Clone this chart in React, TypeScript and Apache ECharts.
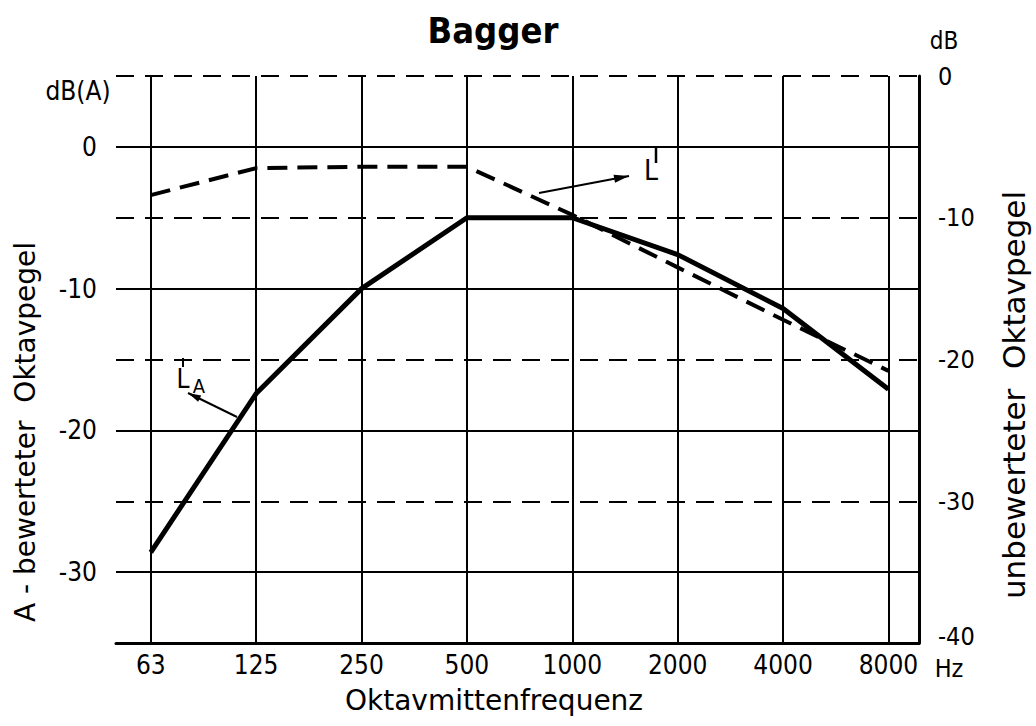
import React, { useEffect, useRef } from 'react';
import * as echarts from 'echarts';

// Octave-band centre frequencies (Hz)
const frequencies = ['63', '125', '250', '500', '1000', '2000', '4000', '8000'];
// A-weighted octave level L'_A in dB(A) (left axis)
const levelA = [-28.6, -17.4, -10.0, -5.0, -5.0, -7.6, -11.4, -17.1];
// Unweighted octave level L' in dB (right axis)
const levelLin = [-8.4, -6.5, -6.4, -6.4, -9.8, -13.5, -17.2, -20.8];
// Tick labels
const leftTicks = [0, -10, -20, -30];
const rightTicks = [0, -10, -20, -30, -40];

const NARROW = "'Liberation Sans Narrow', 'DejaVu Sans Condensed', 'DejaVu Sans', sans-serif";
const WIDE = "'DejaVu Sans', sans-serif";

function arrowHead(tip: number[], from: number[], len: number, half: number) {
  const dx = tip[0] - from[0];
  const dy = tip[1] - from[1];
  const l = Math.hypot(dx, dy);
  const ux = dx / l, uy = dy / l;
  const bx = tip[0] - ux * len, by = tip[1] - uy * len;
  const nx = -uy * half, ny = ux * half;
  return [tip, [bx + nx, by + ny], [bx - nx, by - ny]];
}

export default function App() {
  const ref = useRef<HTMLDivElement>(null);
  useEffect(() => {
    if (!ref.current) return;
    const chart = echarts.init(ref.current, null, { renderer: 'svg' });
    const idx = frequencies.map((_, i) => i);
    const black = '#000';
    const a1Start = [539, 193], a1Tip = [629, 176];
    const a2Start = [237, 417], a2Tip = [188, 393];
    chart.setOption({
      animation: false,
      backgroundColor: '#fff',
      grid: { left: 116, right: 117, top: 76, bottom: 83, containLabel: false },
      xAxis: {
        type: 'value',
        min: -0.33,
        max: 7.29,
        axisLine: { show: true, onZero: false, lineStyle: { color: black, width: 3 } },
        axisTick: { show: false },
        splitLine: { show: false },
        axisLabel: {
          customValues: idx,
          formatter: (v: number) => frequencies[Math.round(v)] ?? '',
          color: black,
          fontSize: 26,
          fontFamily: NARROW,
          margin: 9,
        },
      },
      yAxis: [
        {
          type: 'value',
          min: -35,
          max: 5,
          position: 'left',
          axisLine: { show: true, lineStyle: { color: black, width: 2 } },
          axisTick: { show: false },
          splitLine: { show: false },
          axisLabel: {
            customValues: leftTicks,
            color: black,
            fontSize: 26,
            fontFamily: NARROW,
            margin: 19,
          },
        },
        {
          type: 'value',
          min: -40,
          max: 0,
          interval: 10,
          position: 'right',
          axisLine: { show: true, lineStyle: { color: black, width: 3 } },
          axisTick: { show: false },
          splitLine: { show: true, showMinLine: false, lineStyle: { color: black, width: 2, type: [18, 11] } },
          axisLabel: {
            customValues: rightTicks,
            color: black,
            fontSize: 25,
            fontFamily: NARROW,
            margin: 19,
            formatter: (v: number) => (v === -40 ? '{lift|-40}' : String(v)),
            rich: {
              lift: { fontSize: 25, fontFamily: NARROW, color: black, padding: [0, 0, 14, 0] },
            },
          },
        },
      ],
      series: [
        {
          name: "L'A",
          type: 'line',
          yAxisIndex: 0,
          data: levelA.map((v, i) => [i, v]),
          symbol: 'none',
          lineStyle: { color: black, width: 5 },
          z: 5,
          markLine: {
            silent: true,
            symbol: 'none',
            label: { show: false },
            lineStyle: { color: black, width: 2, type: 'solid' },
            data: [
              ...leftTicks.map((v) => ({ yAxis: v })),
              ...idx.map((i) => ({ xAxis: i })),
            ],
          },
        },
        {
          name: "L'",
          type: 'line',
          yAxisIndex: 1,
          data: levelLin.map((v, i) => [i, v]),
          symbol: 'none',
          lineStyle: { color: black, width: 4, type: [20, 10] },
          z: 4,
        },
      ],
      graphic: [
        { type: 'text', x: 493, y: 30, style: { text: 'Bagger', fontSize: 36, fontWeight: 'bold', fontFamily: NARROW, fill: black, align: 'center', verticalAlign: 'middle' } },
        { type: 'text', x: 78, y: 91, style: { text: 'dB(A)', fontSize: 26, fontFamily: NARROW, fill: black, align: 'center', verticalAlign: 'middle' } },
        { type: 'text', x: 944, y: 41, style: { text: 'dB', fontSize: 24, fontFamily: NARROW, fill: black, align: 'center', verticalAlign: 'middle' } },
        { type: 'text', x: 949, y: 668, style: { text: 'Hz', fontSize: 25, fontFamily: NARROW, fill: black, align: 'center', verticalAlign: 'middle' } },
        { type: 'text', x: 494, y: 700, style: { text: 'Oktavmittenfrequenz', fontSize: 28, fontFamily: WIDE, fill: black, align: 'center', verticalAlign: 'middle' } },
        { type: 'text', x: 25, y: 432, rotation: Math.PI / 2, style: { text: 'A - bewerteter  Oktavpegel', fontSize: 28, fontFamily: WIDE, fill: black, align: 'center', verticalAlign: 'middle' } },
        { type: 'text', x: 1014, y: 395, rotation: Math.PI / 2, style: { text: 'unbewerteter  Oktavpegel', fontSize: 31, fontFamily: WIDE, fill: black, align: 'center', verticalAlign: 'middle' } },
        // L' annotation
        { type: 'line', shape: { x1: a1Start[0], y1: a1Start[1], x2: a1Tip[0], y2: a1Tip[1] }, style: { stroke: black, lineWidth: 2 } },
        { type: 'polygon', shape: { points: arrowHead(a1Tip, a1Start, 15, 4) }, style: { fill: black } },
        { type: 'text', x: 651, y: 170, style: { text: 'L', fontSize: 28, fontFamily: NARROW, fill: black, align: 'center', verticalAlign: 'middle' } },
        { type: 'line', shape: { x1: 656, y1: 148, x2: 656, y2: 163 }, style: { stroke: black, lineWidth: 2.5 } },
        // L'A annotation
        { type: 'line', shape: { x1: a2Start[0], y1: a2Start[1], x2: a2Tip[0], y2: a2Tip[1] }, style: { stroke: black, lineWidth: 2 } },
        { type: 'polygon', shape: { points: arrowHead(a2Tip, a2Start, 13, 3.5) }, style: { fill: black } },
        { type: 'text', x: 183, y: 379, style: { text: 'L', fontSize: 26, fontFamily: NARROW, fill: black, align: 'center', verticalAlign: 'middle' } },
        { type: 'text', x: 199, y: 386, style: { text: 'A', fontSize: 20, fontFamily: NARROW, fill: black, align: 'center', verticalAlign: 'middle' } },
        { type: 'line', shape: { x1: 183, y1: 358, x2: 183, y2: 367 }, style: { stroke: black, lineWidth: 2 } },
      ],
    });
    return () => chart.dispose();
  }, []);
  return (
    <div
      ref={ref}
      style={{ position: 'absolute', left: 0, top: 0, width: 1036, height: 726, background: '#fff' }}
    />
  );
}
